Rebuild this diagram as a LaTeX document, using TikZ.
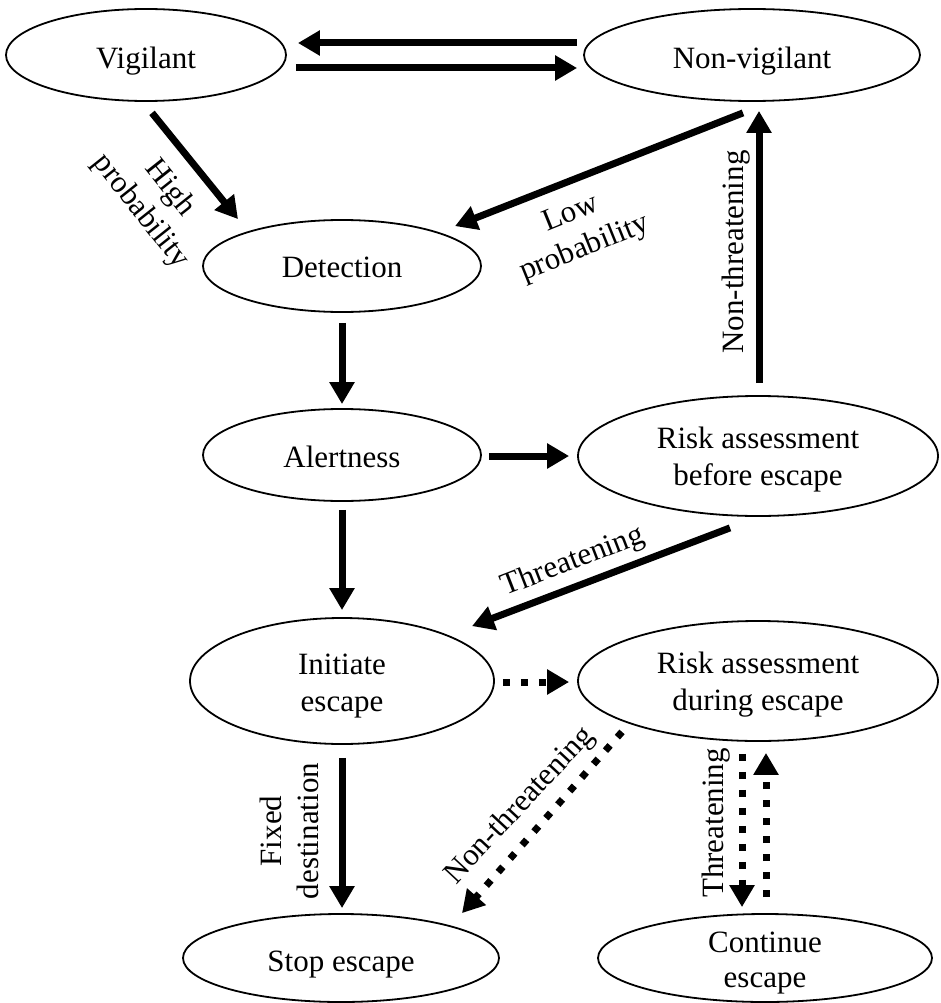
\documentclass[tikz,border=0pt]{standalone}
\usepackage{fontspec}
\setmainfont{Liberation Serif}
\usetikzlibrary{arrows.meta,shapes.geometric}
\begin{document}
\begin{tikzpicture}[x=1pt,y=-1pt,
  ell/.style={draw, ellipse, line width=1.8pt, inner sep=0pt},
  txt/.style={font=\fontsize{31}{37}\selectfont, align=center, inner sep=0pt},
  lbl/.style={font=\fontsize{31}{37}\selectfont, align=center, inner sep=0pt},
  arr/.style={line width=7pt, -{Triangle[length=22pt,width=24pt]}},
  darr/.style={line width=7pt, dash pattern=on 7pt off 11pt, -{Triangle[length=22pt,width=24pt]}}]
\useasboundingbox (0,0) rectangle (941,1003);
\fill[white] (0,0) rectangle (941,1003);

% ellipses
\node[ell, minimum width=280pt, minimum height=92pt] (vig) at (146,55) {};
\node[ell, minimum width=336pt, minimum height=92pt] (nonvig) at (752,55) {};
\node[ell, minimum width=278pt, minimum height=92pt] (det) at (342,266) {};
\node[ell, minimum width=278pt, minimum height=92pt] (alert) at (342,455) {};
\node[ell, minimum width=360pt, minimum height=120pt] (rbe) at (758,456) {};
\node[ell, minimum width=304pt, minimum height=126pt] (init) at (342,681) {};
\node[ell, minimum width=360pt, minimum height=120pt] (rde) at (758,681) {};
\node[ell, minimum width=316pt, minimum height=88pt] (stop) at (341,958) {};
\node[ell, minimum width=334pt, minimum height=88pt] (cont) at (765,958) {};

% texts
\node[txt] (vigT) at (146,61) {Vigilant};
\node[txt] (nonvigT) at (752,61) {Non-vigilant};
\node[txt] (detT) at (342,267) {Detection};
\node[txt] (alertT) at (342,457) {Alertness};
\node[txt] (rbeT) at (758,460) {Risk assessment\\before escape};
\node[txt] (initT) at (342,686) {Initiate\\escape};
\node[txt] (rdeT) at (758,685) {Risk assessment\\during escape};
\node[txt] (stopT) at (341,965) {Stop escape};
\node[txt, font=\fontsize{31}{35}\selectfont] (contT) at (765,963) {Continue\\escape};

% connectors
\draw[arr] ([xshift=-6pt,yshift=12pt]nonvig.west) -- ([xshift=11pt,yshift=12pt]vig.east);
\draw[arr] ([xshift=9pt,yshift=-13pt]vig.east) -- ([xshift=-6pt,yshift=-13pt]nonvig.west);
\draw[arr] ([xshift=6pt,yshift=-11pt]vig.south) -- ([xshift=-104pt]det.north);
\draw[arr] ([xshift=-9pt,yshift=-11pt]nonvig.south) -- ([xshift=113pt,yshift=-7pt]det.north);
\draw[arr] ([xshift=1pt,yshift=12pt]rbe.north) -- ([xshift=7pt,yshift=-9pt]nonvig.south);
\draw[arr] ([yshift=-10pt]det.south) -- ([yshift=4pt]alert.north);
\draw[arr] ([xshift=7pt,yshift=-1pt]alert.east) -- ([xshift=-8pt]rbe.west);
\draw[arr] ([yshift=-8pt]alert.south) -- ([yshift=7pt]init.north);
\draw[arr] ([xshift=-28pt,yshift=-11pt]rbe.south) -- ([xshift=130pt,yshift=-9pt]init.north);
\draw[darr] ([xshift=8pt,yshift=-1pt]init.east) -- ([xshift=-8pt,yshift=-1pt]rde.west);
\draw[arr] ([yshift=-13pt]init.south) -- ([xshift=1pt,yshift=5pt]stop.north);
\draw[darr] ([xshift=-136pt,yshift=10pt]rde.south) -- ([xshift=121pt]stop.north);
\draw[darr] ([xshift=-16pt,yshift=-12pt]rde.south) -- ([xshift=-23pt,yshift=6pt]cont.north);
\draw[darr] ([xshift=1pt,yshift=16pt]cont.north) -- ([xshift=8pt,yshift=-11pt]rde.south);

% labels
\node[lbl, rotate=-51.5] (lHigh) at (155,200) {High\\probability};
\node[lbl, rotate=22] (lLow) at (578,232) {Low\\probability};
\node[lbl, rotate=90] (lNT1) at (736,252) {Non-threatening};
\node[lbl, rotate=21.2] (lThr1) at (573,562) {Threatening};
\node[lbl, rotate=90] (lFix) at (289,831) {Fixed\\destination};
\node[lbl, rotate=47] (lNT2) at (520,806) {Non-threatening};
\node[lbl, rotate=90] (lThr2) at (716,823) {Threatening};
\end{tikzpicture}
\end{document}
